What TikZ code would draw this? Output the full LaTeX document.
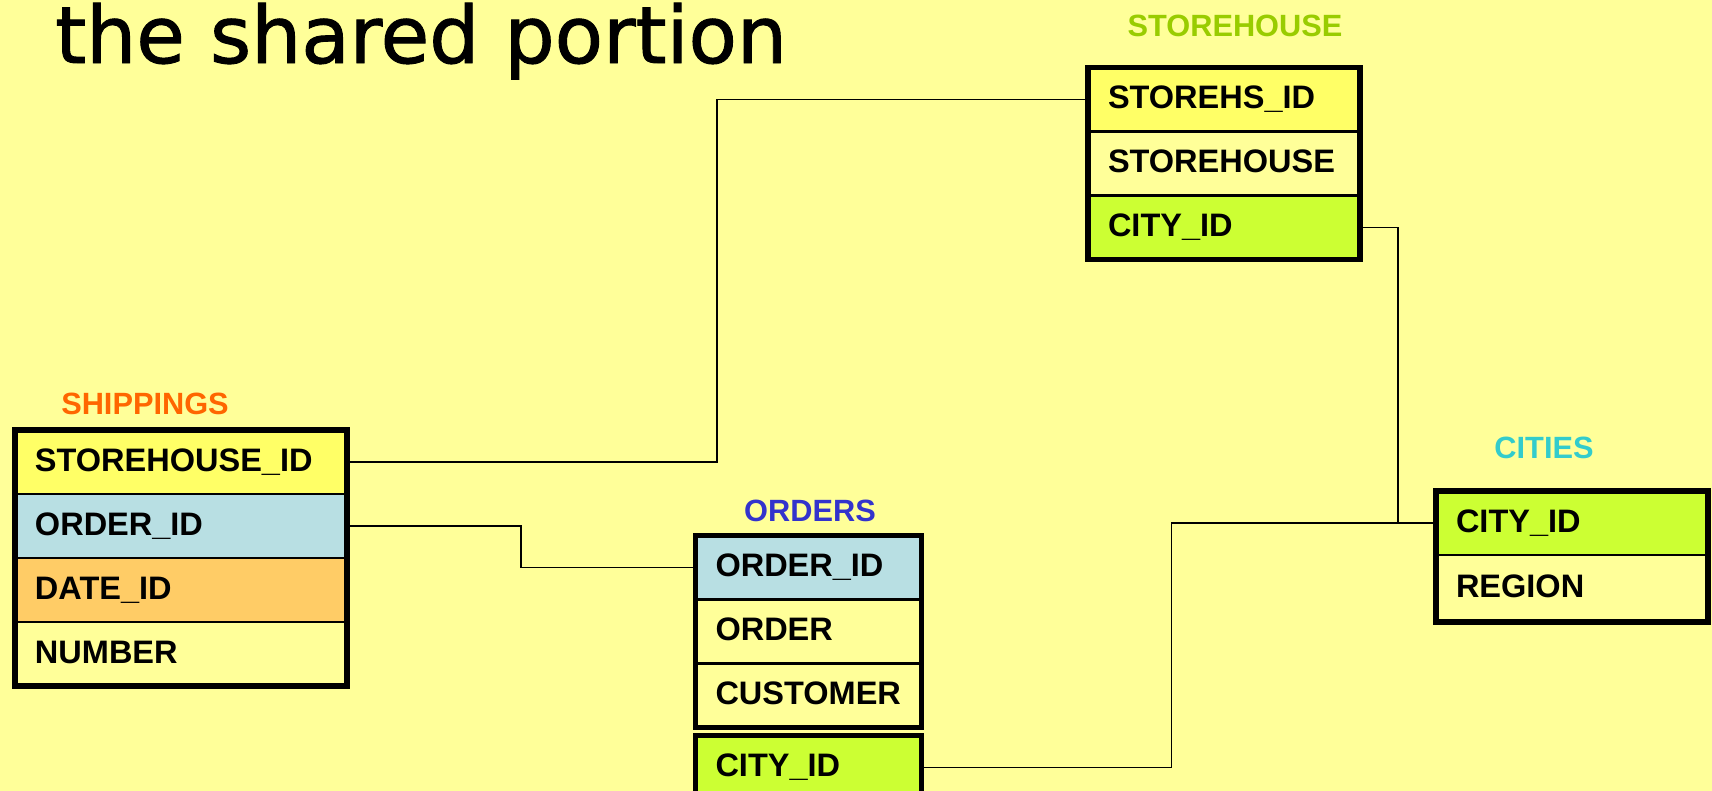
\documentclass[tikz,border=0pt]{standalone}
\usepackage{fontspec}
\setmainfont{Liberation Sans}
\newfontfamily\headfont[FakeBold=1.2]{DejaVu Sans}
\usetikzlibrary{positioning,fit}
\definecolor{paper}{HTML}{FFFF99}
\definecolor{keyyellow}{HTML}{FFFF66}
\definecolor{keyblue}{HTML}{B8DFE3}
\definecolor{keyorange}{HTML}{FFCC66}
\definecolor{keygreen}{HTML}{CCFF33}
\definecolor{shipcol}{HTML}{FF6600}
\definecolor{ordcol}{HTML}{3333CC}
\definecolor{storecol}{HTML}{99CC00}
\definecolor{citycol}{HTML}{33CCCC}

\begin{document}
\begin{tikzpicture}[x=0.02cm,y=-0.02cm,
  every node/.style={font=\fontsize{18.5}{20}\selectfont\bfseries},
  row/.style={draw,line width=1.3pt,fill=paper,text width=#1,inner xsep=0.4cm,inner ysep=0pt,
    outer sep=0pt,minimum height=1.28cm,text height=13pt,text depth=2.5pt},
  frame/.style={draw,line width=3pt,inner sep=0pt},
  caption/.style={font=\fontsize{17.5}{19}\selectfont\bfseries},
  link/.style={line width=0.8pt}]
  \fill[paper] (0,0) rectangle (1712,791);
  \useasboundingbox (0,0) rectangle (1712,791);
  \node[anchor=base west,font=\headfont\fontsize{45}{50}\selectfont] (title) at (49,63) {the shared portion};
  % shippings
  \node[caption,text=shipcol] (shipcap) at (145,404) {SHIPPINGS};
  \node[row=5.84cm,fill=keyyellow,anchor=north west] (ship-sid) at (15,430) {STOREHOUSE\_ID};
  \node[row=5.84cm,fill=keyblue,below=0pt of ship-sid] (ship-oid) {ORDER\_ID};
  \node[row=5.84cm,fill=keyorange,below=0pt of ship-oid] (ship-date) {DATE\_ID};
  \node[row=5.84cm,below=0pt of ship-date] (ship-num) {NUMBER};
  \node[frame,fit=(ship-sid)(ship-num)] (ship) {};
  % orders
  \node[caption,text=ordcol] (ordcap) at (810,511) {ORDERS};
  \node[row=3.72cm,fill=keyblue,anchor=north west] (ord-oid) at (695.5,535.5) {ORDER\_ID};
  \node[row=3.72cm,below=0pt of ord-oid] (ord-ord) {ORDER};
  \node[row=3.72cm,below=0pt of ord-ord] (ord-cust) {CUSTOMER};
  \node[frame,fit=(ord-oid)(ord-cust)] (ord) {};
  \node[row=3.72cm,fill=keygreen,anchor=north west] (ord-city) at (695.5,735.5) {CITY\_ID};
  \node[frame,fit=(ord-city)] (ordx) {};
  % storehouse
  \node[caption,text=storecol] (storecap) at (1235,26) {STOREHOUSE};
  \node[row=4.64cm,fill=keyyellow,anchor=north west] (store-sid) at (1088,67.5) {STOREHS\_ID};
  \node[row=4.64cm,below=0pt of store-sid] (store-name) {STOREHOUSE};
  \node[row=4.64cm,fill=keygreen,below=0pt of store-name] (store-city) {CITY\_ID};
  \node[frame,fit=(store-sid)(store-city)] (store) {};
  % cities
  \node[caption,text=citycol] (citycap) at (1544,448) {CITIES};
  \node[row=4.64cm,fill=keygreen,anchor=north west] (city-cid) at (1436,491) {CITY\_ID};
  \node[row=4.64cm,minimum height=1.34cm,below=0pt of city-cid] (city-reg) {REGION};
  \node[frame,fit=(city-cid)(city-reg)] (city) {};
  % links
  \draw[link] (ship-sid.east) -- ++(370,0) |- (store-sid.west);
  \draw[link] (ship-oid.east) -- ++(174,0) |- (ord-oid.west);
  \draw[link] (ord-city.east) -- ++(250,0) |- (city-cid.west);
  \draw[link] (store-city.east) -- ++(38,0) |- (city-cid.west);
\end{tikzpicture}
\end{document}
